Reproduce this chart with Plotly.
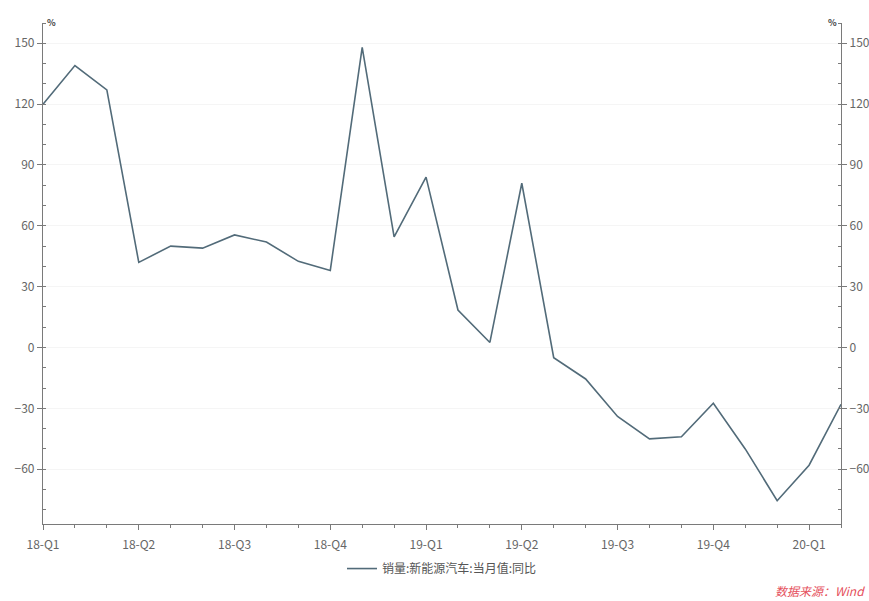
import plotly.graph_objects as go

# Monthly new-energy vehicle sales, year-on-year change (%)
months = ["2018-01", "2018-02", "2018-03", "2018-04", "2018-05", "2018-06",
          "2018-07", "2018-08", "2018-09", "2018-10", "2018-11", "2018-12",
          "2019-01", "2019-02", "2019-03", "2019-04", "2019-05", "2019-06",
          "2019-07", "2019-08", "2019-09", "2019-10", "2019-11", "2019-12",
          "2020-01", "2020-02"]
yoy = [120, 139, 127, 42, 50, 49, 55.5, 52, 42.5, 38, 148, 54.5,
       84, 18.5, 2.5, 81, -5, -15.5, -34, -45, -44, -27.5, -50, -75.5,
       -58, -28]

quarter_labels = ["18-Q1", "18-Q2", "18-Q3", "18-Q4", "19-Q1", "19-Q2", "19-Q3", "19-Q4", "20-Q1"]
quarter_months = ["2018-01", "2018-04", "2018-07", "2018-10", "2019-01",
                  "2019-04", "2019-07", "2019-10", "2020-01"]

y_ticks = [-60, -30, 0, 30, 60, 90, 120, 150]
y_range = [-87, 160]

# evenly spaced month positions on a linear axis
x_pos = list(range(len(months)))
quarter_pos = [months.index(m) for m in quarter_months]

FONT = "Noto Sans CJK SC"
AXIS_COLOR = "#7a7a7a"
TICK_FONT = dict(family=FONT, size=12, color="#666666")

fig = go.Figure()
fig.add_trace(go.Scatter(
    x=x_pos, y=yoy, mode="lines",
    line=dict(color="#526b79", width=1.6),
    name="销量:新能源汽车:当月值:同比",
    customdata=months, hovertemplate="%{customdata}: %{y}%<extra></extra>",
))
# same series on the right-hand axis so both scales are drawn
fig.add_trace(go.Scatter(
    x=x_pos, y=yoy, mode="lines", yaxis="y2",
    line=dict(color="rgba(0,0,0,0)", width=0),
    showlegend=False, hoverinfo="skip",
))

yaxis_common = dict(
    range=y_range, tickvals=y_ticks, ticks="outside", ticklen=5, tickwidth=1,
    tickcolor=AXIS_COLOR, showline=True, linecolor=AXIS_COLOR, linewidth=1.2,
    tickfont=TICK_FONT, zeroline=False, automargin=False,
    minor=dict(dtick=10, ticks="inside", ticklen=3, tickcolor=AXIS_COLOR, showgrid=False),
)

fig.update_layout(
    width=869, height=601,
    margin=dict(l=43, r=28, t=23, b=77),
    paper_bgcolor="white", plot_bgcolor="white",
    font=dict(family=FONT, color="#555555"),
    xaxis=dict(
        range=[x_pos[0], x_pos[-1]],
        tickvals=quarter_pos, ticktext=quarter_labels,
        ticks="outside", ticklen=5, tickcolor=AXIS_COLOR,
        showline=True, linecolor=AXIS_COLOR, linewidth=1.2, automargin=False,
        showgrid=False, zeroline=False, tickfont=TICK_FONT, ticklabelstandoff=4,
        minor=dict(dtick=1, ticks="outside", ticklen=3, tickcolor=AXIS_COLOR, showgrid=False),
    ),
    yaxis=dict(side="left", showgrid=True, gridcolor="#f5f5f5", **yaxis_common),
    yaxis2=dict(side="right", overlaying="y", showgrid=False, **yaxis_common),
    showlegend=True,
    legend=dict(
        orientation="h", x=0.5, xanchor="center", y=-0.06, yanchor="top",
        font=dict(family=FONT, size=12, color="#555555"),
    ),
    annotations=[
        dict(text="<b>%</b>", xref="paper", yref="paper", x=0.0, y=1.0, xanchor="left",
             yanchor="bottom", xshift=2, yshift=-8, showarrow=False,
             font=dict(family=FONT, size=9, color="#444444")),
        dict(text="<b>%</b>", xref="paper", yref="paper", x=1.0, y=1.0, xanchor="right",
             yanchor="bottom", xshift=-2, yshift=-8, showarrow=False,
             font=dict(family=FONT, size=9, color="#444444")),
        dict(text="<i>数据来源：Wind</i>", xref="paper", yref="paper", x=1.0, y=-0.133,
             xanchor="right", yanchor="middle", xshift=26, showarrow=False,
             font=dict(family=FONT, size=12, color="#e5505c")),
    ],
)

fig.write_html("out.html")
